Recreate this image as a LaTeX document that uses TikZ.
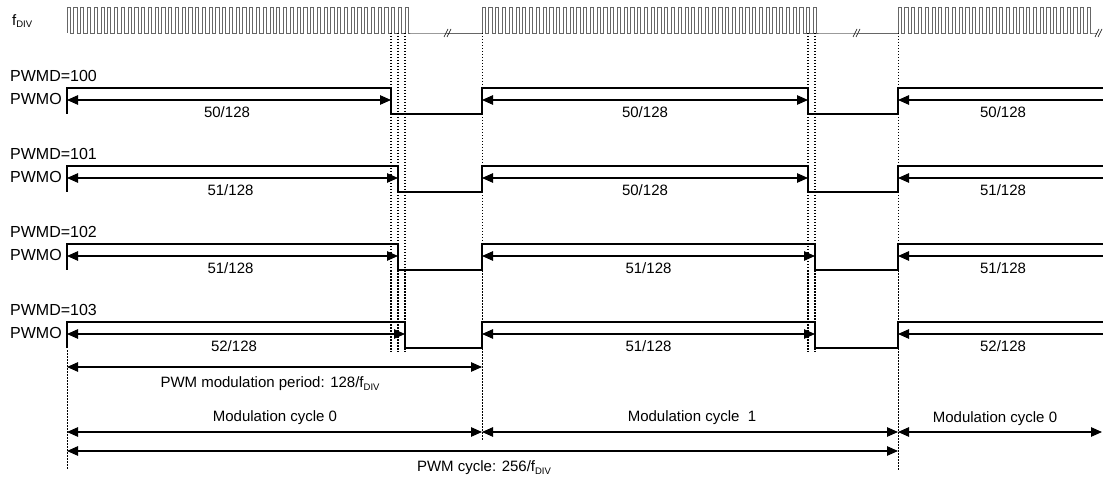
\documentclass[tikz,border=0pt]{standalone}
\usepackage{fontspec}
\setmainfont{Liberation Sans}
\usetikzlibrary{arrows.meta}
\newcommand\mysub[1]{\raisebox{-0.35ex}{\fontsize{9.5}{10}\selectfont #1}}
\tikzset{
  lbl/.style={font=\fontsize{16}{19}\selectfont, inner sep=0pt},
  sml/.style={font=\fontsize{15}{18}\selectfont, inner sep=0pt},
  wave/.style={line width=1.2pt, line join=miter},
  clk/.style={line width=0.6pt, draw=black!60},
  dim/.style={line width=1.1pt, {Triangle[length=11pt,width=9.5pt]}-{Triangle[length=11pt,width=9.5pt]}},
  ldim/.style={line width=1.1pt, {Triangle[length=11pt,width=9.5pt]}-},
  dotk/.style={line width=1.2pt, dash pattern=on 1.5pt off 1.5pt},
  dott/.style={line width=0.8pt, dash pattern=on 1.5pt off 1.5pt},
  brk/.style={line width=0.6pt}
}
\begin{document}
\begin{tikzpicture}[x=1pt,y=-1pt]
\useasboundingbox (0,0) rectangle (1103,478);
\def\per{6.76}\def\hw{3.2}
% clock
\node[sml, anchor=west] (fdiv) at (12,21) {f\mysub{DIV}};
\draw[clk] (67,33)
  foreach \i in {1,...,51} { -- ++(0,-26) -- ++(\hw,0) -- ++(0,26) -- ++({\per-\hw},0) }
  -- (482,33)
  foreach \i in {1,...,50} { -- ++(0,-26) -- ++(\hw,0) -- ++(0,26) -- ++({\per-\hw},0) }
  -- (898,33)
  foreach \i in {1,...,29} { -- ++(0,-26) -- ++(\hw,0) -- ++(0,26) -- ++({\per-\hw},0) }
  -- (1097,33);
\foreach \bx in {444,853,1095}{
  \draw[brk] (\bx,37) -- ++(4,-8) (\bx+3,37) -- ++(4,-8);
}
% dotted guides
\foreach \dx in {391,398,405,808,815}{
  \draw[dotk] (\dx,33) -- (\dx,352);
}
\draw[dott] (482,33) -- (482,440);
\draw[dott] (898,33) -- (898,470);
\draw[dott] (67,350) -- (67,470);
% rows
\foreach \k/\v/\fa/\fb/\na/\nb/\nc in {0/100/391/808/50/50/50, 1/101/398/808/51/50/51, 2/102/398/815/51/51/51, 3/103/405/815/52/51/52}{
  \pgfmathsetmacro\hi{88+78*\k}
  \pgfmathsetmacro\lo{114+78*\k}
  \pgfmathsetmacro\ar{100+78*\k}
  \pgfmathsetmacro\tx{112+78*\k}
  \node[lbl, anchor=west] (pwmd\k) at (10,{76+78*\k}) {PWMD=\v};
  \node[lbl, anchor=west] (pwmo\k) at (10,{99+78*\k}) {PWMO};
  \draw[wave] (67,\lo) -- (67,\hi) -- (\fa,\hi) -- (\fa,\lo) -- (482,\lo) -- (482,\hi) -- (\fb,\hi) -- (\fb,\lo) -- (898,\lo) -- (898,\hi) -- (1103,\hi);
  \draw[dim] (67,\ar) -- (\fa,\ar);
  \draw[dim] (482,\ar) -- (\fb,\ar);
  \draw[ldim] (898,\ar) -- (1103,\ar);
  \node[sml] (na\k) at ({(67+\fa)/2-2},\tx) {\na/128};
  \node[sml] (nb\k) at ({(482+\fb)/2},\tx) {\nb/128};
  \node[sml] (nc\k) at (1003,\tx) {\nc/128};
}
% bottom dimensions
\draw[dim] (67,367) -- (482,367);
\node[sml] (mp) at (270,384) {PWM modulation period: 128/f\mysub{DIV}};
\node[sml] (mc0) at (275,418) {Modulation cycle 0};
\node[sml] (mc1) at (692,418) {Modulation cycle \ 1};
\node[sml] (mc2) at (995,419) {Modulation cycle 0};
\draw[dim] (67,432) -- (482,432);
\draw[dim] (482,432) -- (898,432);
\draw[dim] (898,432) -- (1102,432);
\draw[dim] (67,451) -- (898,451);
\node[sml] (pc) at (484,468) {PWM cycle: 256/f\mysub{DIV}};
\end{tikzpicture}
\end{document}
